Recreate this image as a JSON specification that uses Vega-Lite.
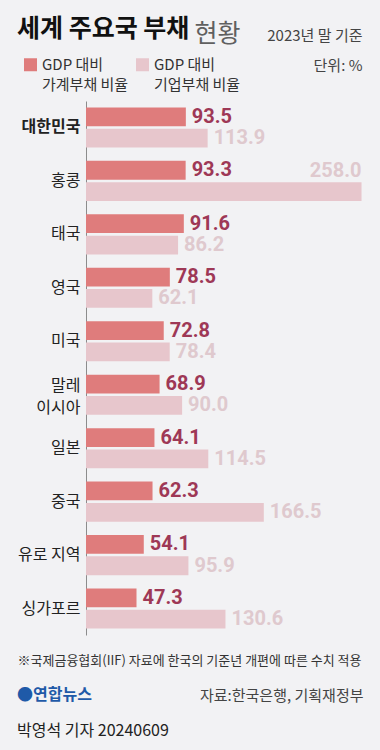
{
  "$schema": "https://vega.github.io/schema/vega-lite/v6.json",
  "width": 294,
  "height": 534,
  "autosize": {"type": "none"},
  "padding": {"left": 86, "top": 101, "right": 0, "bottom": 115},
  "background": "#f2f2f4",
  "config": {"view": {"stroke": null}, "font": "Noto Sans CJK KR", "style": {"guide-label": {"lineHeight": 20}}},
  "title": {
    "text": "●연합뉴스",
    "subtitle": "박영석 기자 20240609",
    "orient": "bottom",
    "anchor": "start",
    "frame": "group",
    "dx": -69,
    "dy": -16,
    "font": "Noto Sans CJK KR",
    "fontSize": 16,
    "fontWeight": "bold",
    "color": "#1f5aa8",
    "subtitleFont": "Noto Sans CJK KR",
    "subtitleFontSize": 16,
    "subtitleColor": "#222222",
    "subtitleFontWeight": "normal",
    "subtitlePadding": 20,
    "offset": 0
  },
  "data": {
    "values": [
      {"country": "대한민국", "series": "GDP 대비 가계부채 비율", "value": 93.5},
      {"country": "대한민국", "series": "GDP 대비 기업부채 비율", "value": 113.9},
      {"country": "홍콩", "series": "GDP 대비 가계부채 비율", "value": 93.3},
      {"country": "홍콩", "series": "GDP 대비 기업부채 비율", "value": 258.0},
      {"country": "태국", "series": "GDP 대비 가계부채 비율", "value": 91.6},
      {"country": "태국", "series": "GDP 대비 기업부채 비율", "value": 86.2},
      {"country": "영국", "series": "GDP 대비 가계부채 비율", "value": 78.5},
      {"country": "영국", "series": "GDP 대비 기업부채 비율", "value": 62.1},
      {"country": "미국", "series": "GDP 대비 가계부채 비율", "value": 72.8},
      {"country": "미국", "series": "GDP 대비 기업부채 비율", "value": 78.4},
      {"country": "말레이시아", "series": "GDP 대비 가계부채 비율", "value": 68.9},
      {"country": "말레이시아", "series": "GDP 대비 기업부채 비율", "value": 90.0},
      {"country": "일본", "series": "GDP 대비 가계부채 비율", "value": 64.1},
      {"country": "일본", "series": "GDP 대비 기업부채 비율", "value": 114.5},
      {"country": "중국", "series": "GDP 대비 가계부채 비율", "value": 62.3},
      {"country": "중국", "series": "GDP 대비 기업부채 비율", "value": 166.5},
      {"country": "유로 지역", "series": "GDP 대비 가계부채 비율", "value": 54.1},
      {"country": "유로 지역", "series": "GDP 대비 기업부채 비율", "value": 95.9},
      {"country": "싱가포르", "series": "GDP 대비 가계부채 비율", "value": 47.3},
      {"country": "싱가포르", "series": "GDP 대비 기업부채 비율", "value": 130.6}
    ]
  },
  "layer": [
    {
      "mark": {"type": "bar", "cornerRadius": 0},
      "encoding": {
        "x": {
          "field": "value", "type": "quantitative",
          "scale": {"domain": [0, 275.3], "nice": false, "zero": true},
          "axis": {
            "orient": "bottom", "labels": false, "ticks": false, "domain": false, "grid": false,
            "title": "자료:한국은행, 기획재정부",
            "titleX": 277, "titleY": 60, "titleAlign": "right", "titleBaseline": "middle", "titleAngle": 0,
            "titleFont": "Noto Sans CJK KR", "titleFontSize": 15, "titleFontWeight": "normal", "titleColor": "#444444"
          }
        },
        "y": {
          "field": "country", "type": "nominal",
          "sort": ["대한민국", "홍콩", "태국", "영국", "미국", "말레이시아", "일본", "중국", "유로 지역", "싱가포르"],
          "scale": {"paddingInner": 0.25, "paddingOuter": 0.12},
          "axis": {
            "orient": "left", "ticks": false, "domain": true, "domainColor": "#8c8c8c", "domainWidth": 1, "grid": false,
            "labelFont": "Noto Sans CJK KR", "labelFontSize": 16, "labelColor": "#222222", "labelPadding": 6,
            "labelLineHeight": 22,
            "labelExpr": "datum.label == '말레이시아' ? ['말레', '이시아'] : datum.label",
            "labelOffset": {"condition": {"test": "datum.value == '말레이시아'", "value": -9}, "value": 0},
            "labelFontWeight": {"condition": {"test": "datum.value == '대한민국'", "value": "bold"}, "value": "normal"},
            "title": "※국제금융협회(IIF) 자료에 한국의 기준년 개편에 따른 수치 적용",
            "titleX": -69, "titleY": 559, "titleAlign": "left", "titleBaseline": "middle", "titleAngle": 0,
            "titleFont": "Noto Sans CJK KR", "titleFontSize": 13, "titleFontWeight": "normal", "titleColor": "#333333"
          }
        },
        "yOffset": {
          "field": "series", "type": "nominal",
          "scale": {"paddingInner": 0.12, "paddingOuter": 0}
        },
        "color": {
          "field": "series", "type": "nominal",
          "scale": {"range": ["#df7c7c", "#e7c6cc"]},
          "legend": {
            "orient": "none", "legendX": -69, "legendY": -84, "direction": "horizontal", "columns": 2,
            "title": "세계 주요국 부채", "titleOrient": "top", "titleAnchor": "start", "titlePadding": 15,
            "titleFont": "Noto Sans CJK KR", "titleFontSize": 25, "titleFontWeight": "bold", "titleColor": "#111111", "titleLimit": 400,
            "symbolOffset": 6,
            "symbolType": "square", "symbolSize": 169, "symbolStrokeWidth": 0,
            "labelFont": "Noto Sans CJK KR", "labelFontSize": 15, "labelColor": "#333333",
            "labelExpr": "['GDP 대비', substring(datum.label, 7)]",
            "labelOffset": 4, "columnPadding": -12, "labelBaseline": "middle", "labelLimit": 200
          }
        }
      }
    },
    {
      "transform": [{"filter": "datum.series == 'GDP 대비 가계부채 비율'"}],
      "mark": {"type": "text", "align": "left", "baseline": "middle", "dx": 6, "font": "Roboto", "fontSize": 20, "fontWeight": "bold", "color": "#9e3856"},
      "encoding": {
        "x": {
          "field": "value", "type": "quantitative",
          "axis": {
            "orient": "top", "labels": false, "ticks": false, "domain": false, "grid": false,
            "title": "현황",
            "titleX": 108, "titleY": -60, "titleAlign": "left", "titleBaseline": "alphabetic", "titleAngle": 0,
            "titleFont": "Noto Sans CJK KR", "titleFontSize": 25, "titleFontWeight": "normal", "titleColor": "#606060"
          }
        },
        "y": {
          "field": "country", "type": "nominal",
          "sort": ["대한민국", "홍콩", "태국", "영국", "미국", "말레이시아", "일본", "중국", "유로 지역", "싱가포르"],
          "axis": {
            "orient": "right", "labels": false, "ticks": false, "domain": false, "grid": false,
            "title": ["2023년 말 기준", "단위: %"],
            "titleX": -18, "titleY": -61, "titleAlign": "right", "titleBaseline": "alphabetic", "titleAngle": 0,
            "titleLineHeight": 30,
            "titleFont": "Noto Sans CJK KR", "titleFontSize": 15, "titleFontWeight": "normal", "titleColor": "#444444"
          }
        },
        "yOffset": {"field": "series", "type": "nominal"},
        "text": {"field": "value", "type": "quantitative", "format": ".1f"}
      }
    },
    {
      "transform": [{"filter": "datum.series == 'GDP 대비 기업부채 비율' && datum.value < 200"}],
      "mark": {"type": "text", "align": "left", "baseline": "middle", "dx": 6, "font": "Roboto", "fontSize": 20, "fontWeight": "bold", "color": "#dfc9ce"},
      "encoding": {
        "x": {"field": "value", "type": "quantitative", "axis": null},
        "y": {
          "field": "country", "type": "nominal",
          "sort": ["대한민국", "홍콩", "태국", "영국", "미국", "말레이시아", "일본", "중국", "유로 지역", "싱가포르"],
          "axis": null
        },
        "yOffset": {"field": "series", "type": "nominal"},
        "text": {"field": "value", "type": "quantitative", "format": ".1f"}
      }
    },
    {
      "transform": [{"filter": "datum.series == 'GDP 대비 기업부채 비율' && datum.value >= 200"}],
      "mark": {"type": "text", "align": "right", "baseline": "middle", "dx": 0, "dy": -21, "font": "Roboto", "fontSize": 20, "fontWeight": "bold", "color": "#dfc9ce"},
      "encoding": {
        "x": {"field": "value", "type": "quantitative", "axis": null},
        "y": {
          "field": "country", "type": "nominal",
          "sort": ["대한민국", "홍콩", "태국", "영국", "미국", "말레이시아", "일본", "중국", "유로 지역", "싱가포르"],
          "axis": null
        },
        "yOffset": {"field": "series", "type": "nominal"},
        "text": {"field": "value", "type": "quantitative", "format": ".1f"}
      }
    }
  ],
  "resolve": {"axis": {"x": "independent", "y": "independent"}}
}
